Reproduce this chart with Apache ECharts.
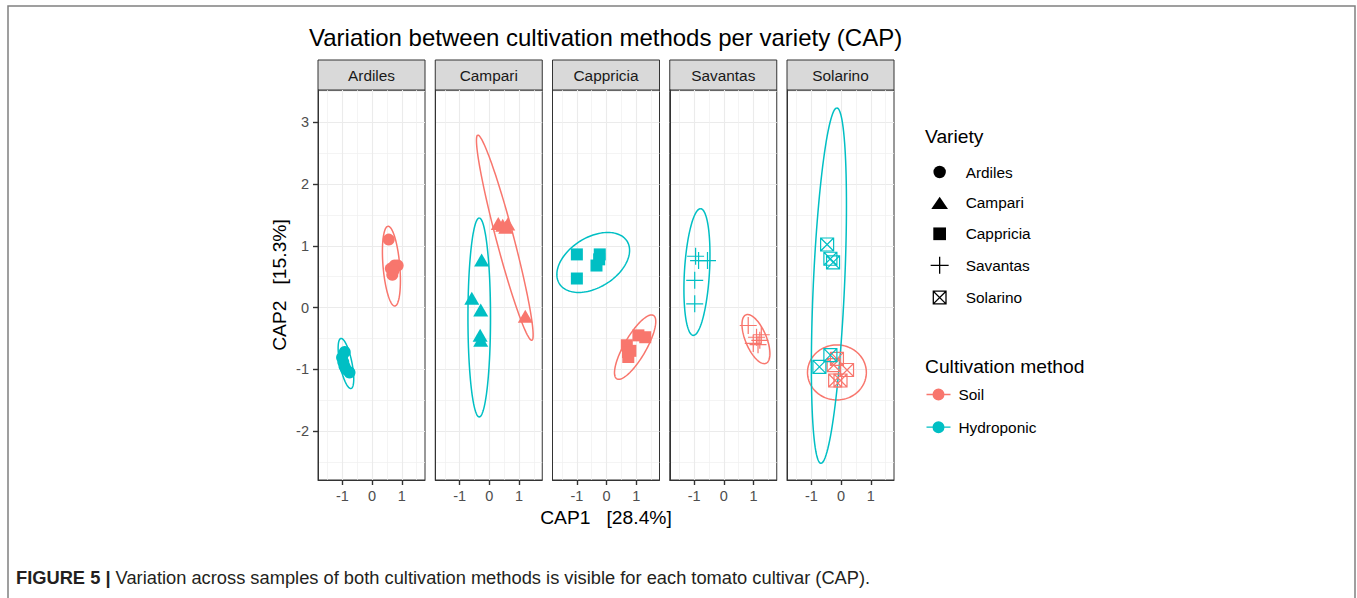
<!DOCTYPE html>
<html><head><meta charset="utf-8">
<script src="https://cdn.jsdelivr.net/npm/echarts@6/dist/echarts.min.js"></script>
<style>html,body{margin:0;padding:0;background:#fff;}#c{width:1357px;height:598px;}</style>
</head><body><div id="c"></div><script>
// ---------- data ----------
const varieties = ['Ardiles', 'Campari', 'Cappricia', 'Savantas', 'Solarino'];
const methods = ['Soil', 'Hydroponic'];
const xTicks = [-1, 0, 1];
const xMinorTicks = [-1.5, -0.5, 0.5, 1.5];
const yTicks = [-2, -1, 0, 1, 2, 3];
const yMinorTicks = [-2.5, -1.5, -0.5, 0.5, 1.5, 2.5, 3.5];
const xRange = [-1.82, 1.78];
const yRange = [-2.79, 3.52];
const titleText = 'Variation between cultivation methods per variety (CAP)';
const xTitle = 'CAP1   [28.4%]';
const yTitle = 'CAP2   [15.3%]';
const captionBold = 'FIGURE 5 |';
const captionText = 'Variation across samples of both cultivation methods is visible for each tomato cultivar (CAP).';

// sample scores [CAP1, CAP2]
const ardilesSoil = [[0.56, 1.10], [0.63, 0.63], [0.76, 0.68], [0.86, 0.68], [0.68, 0.53], [0.72, 0.60]];
const ardilesHydro = [[-0.92, -0.72], [-1.01, -0.81], [-0.93, -0.95], [-0.76, -1.05], [-0.88, -1.00], [-0.97, -0.88]];
const campariSoil = [[0.30, 1.36], [0.45, 1.33], [0.62, 1.35], [0.55, 1.30], [1.21, -0.14]];
const campariHydro = [[-0.26, 0.77], [-0.59, 0.15], [-0.29, -0.04], [-0.31, -0.45], [-0.29, -0.53]];
const cappriciaSoil = [[0.68, -0.61], [0.73, -0.80], [1.07, -0.45], [1.30, -0.48], [0.80, -0.70], [0.72, -0.72]];
const cappriciaHydro = [[-1.00, 0.86], [-1.00, 0.47], [-0.23, 0.86], [-0.34, 0.68], [-0.25, 0.78]];
const savantasSoil = [[0.82, -0.29], [1.10, -0.48], [1.21, -0.53], [0.99, -0.58], [1.26, -0.44], [1.15, -0.60]];
const savantasHydro = [[-0.95, 0.83], [-0.85, 0.76], [-0.55, 0.76], [-0.98, 0.44], [-0.98, 0.06]];
const solarinoSoil = [[-0.14, -0.83], [0.20, -1.01], [-0.20, -1.18], [-0.02, -1.18], [-0.25, -0.93]];
const solarinoHydro = [[-0.47, 1.02], [-0.36, 0.79], [-0.27, 0.73], [-0.36, -0.77], [-0.73, -0.96]];

// confidence ellipses [centerX, centerY, semiAxis1X, semiAxis1Y, semiAxis2X, semiAxis2Y]
const soilEllipses = [
  [0.65, 0.67, -0.115, 0.645, 0.28, 0.011],
  [0.52, 1.13, -0.91, 1.66, 0.285, 0.036],
  [0.96, -0.64, 0.616, 0.513, 0.32, -0.089],
  [1.08, -0.51, 0.337, -0.392, 0.327, 0.065],
  [-0.14, -1.05, 0.99, 0, 0, 0.445]
];
const hydroEllipses = [
  [-0.88, -0.905, -0.17, 0.405, 0.2, 0.019],
  [-0.34, -0.16, 0, 1.61, 0.38, 0],
  [-0.45, 0.73, 1.14, 0.343, 0.444, -0.343],
  [-0.905, 0.575, 0.125, 1.025, 0.42, -0.012],
  [-0.41, 0.355, 0.27, 2.875, 0.525, -0.011]
];

// ---------- styling / layout ----------
const soilPoints = [ardilesSoil, campariSoil, cappriciaSoil, savantasSoil, solarinoSoil];
const hydroPoints = [ardilesHydro, campariHydro, cappriciaHydro, savantasHydro, solarinoHydro];
const methodColors = ['#F8766D', '#00BFC4'];
const FONT = '"Liberation Sans", Arial, Helvetica, sans-serif';
const panelLeft0 = 318, panelStep = 117.25, panelWidth = 107, panelTop = 90, panelHeight = 390, stripTop = 60;

const plusPath = 'path://M0,5L10,5M5,0L5,10';
const sqCrossPath = 'path://M0,0L10,0L10,10L0,10ZM0,0L10,10M10,0L0,10';
const symbols = ['circle', 'triangle', 'rect', plusPath, sqCrossPath];
const symbolSizes = [12, [15, 13], 12, 17, 13];
const filled = [true, true, true, false, false];
const legendIcons = [
  'path://M0,0M18,18M15.2,9A6.2,6.2,0,1,1,2.8,9A6.2,6.2,0,1,1,15.2,9Z',
  'path://M0,0M18,18M0.65,15.2L17.35,15.2L9,2.8Z',
  'path://M0,0M18,18M2.65,2.65L15.35,2.65L15.35,15.35L2.65,15.35Z',
  'path://M0,0M18,18M0,9L18,9M9,0.5L9,17.5',
  'path://M0,0M18,18M2.65,2.65L15.35,2.65L15.35,15.35L2.65,15.35ZM2.65,2.65L15.35,15.35M15.35,2.65L2.65,15.35'
];
const lineDotIcon = 'path://M0,5.3L26,5.3L26,6.7L0,6.7ZM19.5,6A6.5,6.5,0,1,1,6.5,6A6.5,6.5,0,1,1,19.5,6Z';

function ellipseRender(params, api) {
  const cx = api.value(0), cy = api.value(1), ax = api.value(2), ay = api.value(3), bx = api.value(4), by = api.value(5);
  const pts = [];
  const N = 120;
  for (let k = 0; k <= N; k++) {
    const t = k / N * Math.PI * 2;
    pts.push(api.coord([cx + ax * Math.cos(t) + bx * Math.sin(t), cy + ay * Math.cos(t) + by * Math.sin(t)]));
  }
  return { type: 'polyline', shape: { points: pts }, style: { fill: null, stroke: api.visual('color'), lineWidth: 1.5 } };
}

const grids = [], xAxes = [], yAxes = [], series = [], graphics = [];
graphics.push({ type: 'rect', shape: { x: 8, y: 6, width: 1347, height: 700 }, style: { fill: null, stroke: '#808080', lineWidth: 1.5 }, silent: true });

varieties.forEach((v, i) => {
  const left = panelLeft0 + i * panelStep;
  grids.push({ left: left, top: panelTop, width: panelWidth, height: panelHeight, show: true, borderColor: '#333333', borderWidth: 1 });
  // strip
  graphics.push({ type: 'rect', shape: { x: left, y: stripTop, width: panelWidth, height: panelTop - stripTop }, style: { fill: '#D9D9D9', stroke: '#333333', lineWidth: 1 }, silent: true });
  graphics.push({ type: 'text', x: left + panelWidth / 2, y: stripTop + (panelTop - stripTop) / 2 + 0.5, style: { text: v, align: 'center', verticalAlign: 'middle', font: '15.4px ' + FONT, fill: '#1A1A1A' }, silent: true });

  xAxes.push({
    gridIndex: i, type: 'value', min: xRange[0], max: xRange[1], position: 'bottom',
    axisLine: { show: true, onZero: false, lineStyle: { color: '#333333', width: 1 } },
    axisTick: { show: true, customValues: xTicks, length: 5, lineStyle: { color: '#333333', width: 1.4 } },
    axisLabel: { show: true, customValues: xTicks, margin: 8, fontSize: 14.5, color: '#4D4D4D', fontFamily: FONT },
    splitLine: { show: true, lineStyle: { color: '#EBEBEB', width: 1.1 } },
    name: i === 2 ? xTitle : '', nameLocation: 'middle', nameGap: 25,
    nameTextStyle: { fontSize: 19.25, color: '#000', fontFamily: FONT }
  });
  xAxes.push({
    gridIndex: i, type: 'value', min: xRange[0], max: xRange[1], position: 'top',
    axisLine: { show: false, onZero: false }, axisLabel: { show: false },
    axisTick: { show: false, customValues: xMinorTicks },
    splitLine: { show: true, lineStyle: { color: '#EFEFEF', width: 0.7 } }
  });
  yAxes.push({
    gridIndex: i, type: 'value', min: yRange[0], max: yRange[1], position: 'left',
    axisLine: { show: true, onZero: false, lineStyle: { color: '#333333', width: 1 } },
    axisTick: { show: i === 0, customValues: yTicks, length: 5, lineStyle: { color: '#333333', width: 1.4 } },
    axisLabel: { show: i === 0, customValues: yTicks, margin: 9, fontSize: 14.5, color: '#4D4D4D', fontFamily: FONT },
    splitLine: { show: true, lineStyle: { color: '#EBEBEB', width: 1.1 } },
    name: i === 0 ? yTitle : '', nameLocation: 'middle', nameGap: 29,
    nameTextStyle: { fontSize: 19.25, color: '#000', fontFamily: FONT }
  });
  yAxes.push({
    gridIndex: i, type: 'value', min: yRange[0], max: yRange[1], position: 'right',
    axisLine: { show: false, onZero: false }, axisLabel: { show: false },
    axisTick: { show: false, customValues: yMinorTicks },
    splitLine: { show: true, lineStyle: { color: '#EFEFEF', width: 0.7 } }
  });

  const ells = [soilEllipses[i], hydroEllipses[i]];
  const pts = [soilPoints[i], hydroPoints[i]];
  methods.forEach((m, j) => {
    series.push({
      type: 'custom', name: m, xAxisIndex: 2 * i, yAxisIndex: 2 * i,
      coordinateSystem: 'cartesian2d', encode: { x: 0, y: 1 },
      itemStyle: { color: methodColors[j] }, data: [ells[j]], renderItem: ellipseRender, z: 3, silent: true
    });
  });
  methods.forEach((m, j) => {
    series.push({
      type: 'scatter', name: v, xAxisIndex: 2 * i, yAxisIndex: 2 * i,
      symbol: symbols[i], symbolSize: symbolSizes[i], data: pts[j], z: 4,
      itemStyle: filled[i] ? { color: methodColors[j], opacity: 1 } : { color: 'rgba(0,0,0,0)', borderColor: methodColors[j], borderWidth: 1.2, opacity: 1 }
    });
  });
});

const option = {
  animation: false,
  textStyle: { fontFamily: FONT },
  title: [
    { text: titleText, left: 309, top: 25, padding: 0, textStyle: { fontSize: 24, fontWeight: 'normal', color: '#000', fontFamily: FONT } },
    { text: 'Variety', left: 925, top: 127, padding: 0, textStyle: { fontSize: 19.25, fontWeight: 'normal', color: '#000', fontFamily: FONT } },
    { text: 'Cultivation method', left: 925, top: 357, padding: 0, textStyle: { fontSize: 19.25, fontWeight: 'normal', color: '#000', fontFamily: FONT } },
    { text: '{b|' + captionBold + '} {r|' + captionText + '}', left: 16, top: 568, padding: 0,
      textStyle: { fontWeight: 'normal', fontSize: 18.3, rich: { b: { fontSize: 18.3, fontWeight: 'bold', color: '#231F20', fontFamily: FONT }, r: { fontSize: 18.3, fontWeight: 'normal', color: '#231F20', fontFamily: FONT } } } }
  ],
  legend: [
    {
      orient: 'vertical', left: 930, top: 163, itemWidth: 18, itemHeight: 18, itemGap: 12.9, selectedMode: false, padding: 0,
      textStyle: { fontSize: 15.4, color: '#000', fontFamily: FONT, padding: [0, 0, 0, 12] },
      data: varieties.map((v, i) => ({ name: v, icon: legendIcons[i],
        itemStyle: filled[i] ? { color: '#000', borderWidth: 0 } : { color: 'rgba(0,0,0,0)', borderColor: '#000', borderWidth: 1.3 } }))
    },
    {
      orient: 'vertical', left: 926.5, top: 387, itemWidth: 26, itemHeight: 12, itemGap: 17.7, selectedMode: false, padding: 0,
      textStyle: { fontSize: 15.4, color: '#000', fontFamily: FONT, padding: [0, 0, 0, 2] },
      data: methods.map((m, j) => ({ name: m, icon: lineDotIcon, itemStyle: { color: methodColors[j], borderWidth: 0 } }))
    }
  ],
  grid: grids, xAxis: xAxes, yAxis: yAxes, series: series, graphic: graphics
};
const chart = echarts.init(document.getElementById('c'), null, { renderer: 'svg' });
chart.setOption(option);
</script></body></html>
